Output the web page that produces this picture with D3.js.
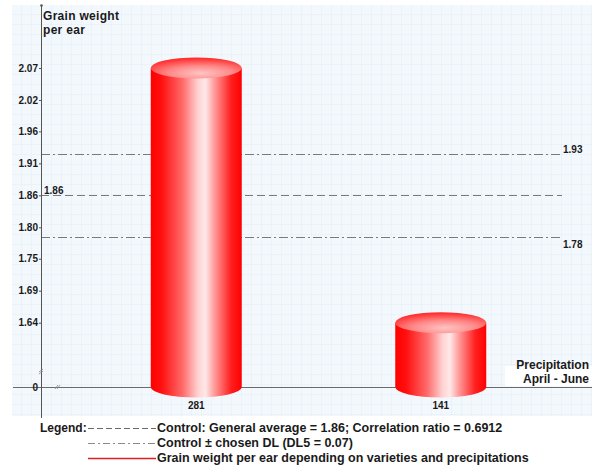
<!DOCTYPE html>
<html>
<head>
<meta charset="utf-8">
<script src="https://cdn.jsdelivr.net/npm/d3@7"></script>
<style>
  html, body { margin: 0; padding: 0; background: #ffffff; }
  svg { display: block; font-family: "Liberation Sans", Arial, sans-serif; }
  .bold { font-weight: bold; fill: #1a1a1a; }
</style>
</head>
<body>
<svg id="chart" width="592" height="468"></svg>
<script>
// Grain weight per ear by precipitation (April - June)
const categories = ["281", "141"];
const grainWeight = [2.07, 1.64];

// Y axis ticks (evenly spaced between lowest and highest mean) and their labels
const tickValues = [1.64, 1.694, 1.748, 1.801, 1.855, 1.909, 1.963, 2.016, 2.07];
const tickLabels = ["1.64", "1.69", "1.75", "1.80", "1.86", "1.91", "1.96", "2.02", "2.07"];

// Control reference lines
const generalAverage = 1.855;
const dl5 = 0.07;
const correlationRatio = 0.6912;
const refLabels = ["1.86", "1.93", "1.78"];

const legendTexts = [
  "Control: General average = 1.86; Correlation ratio = 0.6912",
  "Control \u00b1 chosen DL (DL5 = 0.07)",
  "Grain weight per ear depending on varieties and precipitations"
];

const svg = d3.select("#chart");
const axisX = 41, baseY = 387;

// Broken value axis: the lowest plotted level sits on the zero baseline
const y = d3.scaleLinear().domain([1.5314, 2.07]).range([baseY, 68]);
const x = d3.scaleBand().domain(categories).range([74, 563]);
const barW = 91, ry = 10.5;

const defs = svg.append("defs");
const pattern = defs.append("pattern").attr("id", "grid")
  .attr("patternUnits", "userSpaceOnUse").attr("width", 10).attr("height", 10)
  .attr("x", 12).attr("y", 5);
pattern.append("rect").attr("width", 10).attr("height", 10).attr("fill", "#f3f8fd");
pattern.append("path").attr("d", "M10 0V10M0 10H10").attr("stroke", "#e3ecf6").attr("stroke-width", 1).attr("fill", "none");

const bodyGrad = defs.append("linearGradient").attr("id", "body").attr("x1", 0).attr("x2", 1).attr("y1", 0).attr("y2", 0);
[[0, "#ff0000"], [0.12, "#ff1010"], [0.35, "#ff6a6a"], [0.52, "#ffd2d2"], [0.6, "#ffe8e8"], [0.7, "#ff9a9a"], [0.88, "#ff2020"], [1, "#ff0000"]]
  .forEach(([o, c]) => bodyGrad.append("stop").attr("offset", o).attr("stop-color", c));

const topGrad = defs.append("radialGradient").attr("id", "top").attr("cx", 0.55).attr("cy", 0.75).attr("r", 0.7);
[[0, "#ffc4c4"], [0.5, "#ff8a8a"], [1, "#ff3030"]]
  .forEach(([o, c]) => topGrad.append("stop").attr("offset", o).attr("stop-color", c));

// Plot background with grid
svg.append("rect").attr("x", 12).attr("y", 5).attr("width", 580).attr("height", 411).attr("fill", "url(#grid)");

// Baseline (x axis)
svg.append("line").attr("x1", 13).attr("x2", 592).attr("y1", baseY + 0.5).attr("y2", baseY + 0.5)
  .attr("stroke", "#6b6b6b").attr("stroke-width", 1);

// Reference lines: average (dashed) and average ± DL5 (dash-dot)
const refLines = [
  { v: generalAverage, dash: "8,4" },
  { v: generalAverage + dl5, dash: "9,3,2,3" },
  { v: generalAverage - dl5, dash: "9,3,2,3" }
];
svg.selectAll("line.ref").data(refLines).join("line").attr("class", "ref")
  .attr("x1", axisX).attr("x2", 562)
  .attr("y1", d => Math.round(y(d.v)) + 0.5).attr("y2", d => Math.round(y(d.v)) + 0.5)
  .attr("stroke", "#7a7a7a").attr("stroke-width", 1).attr("stroke-dasharray", d => d.dash);

svg.append("text").attr("class", "bold").attr("x", 44).attr("y", Math.round(y(generalAverage)) - 1)
  .attr("font-size", 10).text(refLabels[0]);
svg.append("text").attr("class", "bold").attr("x", 563).attr("y", Math.round(y(generalAverage + dl5)) - 1)
  .attr("font-size", 10).text(refLabels[1]);
svg.append("text").attr("class", "bold").attr("x", 563).attr("y", Math.round(y(generalAverage - dl5)) + 11)
  .attr("font-size", 10).text(refLabels[2]);

// Cylinders
const bars = svg.selectAll("g.bar").data(categories.map((c, i) => ({ c, v: grainWeight[i] }))).join("g").attr("class", "bar");
bars.append("path")
  .attr("d", d => {
    const cx = x(d.c) + x.bandwidth() / 2, x0 = cx - barW / 2, x1 = cx + barW / 2, yt = y(d.v);
    return `M${x0},${yt}L${x0},${baseY}A${barW / 2},${ry} 0 0 0 ${x1},${baseY}L${x1},${yt}Z`;
  })
  .attr("fill", "url(#body)");
bars.append("ellipse")
  .attr("cx", d => x(d.c) + x.bandwidth() / 2).attr("cy", d => y(d.v))
  .attr("rx", barW / 2).attr("ry", ry).attr("fill", "url(#top)");

// Category labels
svg.selectAll("text.cat").data(categories).join("text").attr("class", "cat bold")
  .attr("x", d => x(d) + x.bandwidth() / 2).attr("y", 409).attr("text-anchor", "middle")
  .attr("font-size", 10).text(d => d);

// Y axis
svg.append("line").attr("x1", axisX + 0.5).attr("x2", axisX + 0.5).attr("y1", 5).attr("y2", 418)
  .attr("stroke", "#555555").attr("stroke-width", 1);
svg.append("circle").attr("cx", axisX + 0.5).attr("cy", 5.5).attr("r", 1.3).attr("fill", "#555555");

const yAxis = d3.axisLeft(y).tickValues(tickValues).tickFormat((d, i) => tickLabels[i]).tickSize(2).tickPadding(1);
const gAxis = svg.append("g").attr("transform", `translate(${axisX},0)`).call(yAxis);
gAxis.select(".domain").remove();
gAxis.selectAll(".tick line").attr("stroke", "#555555");
gAxis.selectAll(".tick text").attr("font-family", "Liberation Sans, Arial, sans-serif")
  .attr("font-size", 10).attr("font-weight", "bold").attr("fill", "#1a1a1a");

svg.append("text").attr("class", "bold").attr("x", 38).attr("y", baseY + 4).attr("text-anchor", "end")
  .attr("font-size", 10).text("0");

// Axis break marks
svg.append("path").attr("d", `M${axisX - 2},${372}L${axisX + 2},${369}M${axisX - 2},${374}L${axisX + 2},${371}`)
  .attr("stroke", "#8a8a8a").attr("stroke-width", 0.8).attr("fill", "none");
svg.append("path").attr("d", `M55,389L58,385M57,389L60,385`)
  .attr("stroke", "#8a8a8a").attr("stroke-width", 0.8).attr("fill", "none");

// Axis titles
svg.append("text").attr("class", "bold").attr("x", 43).attr("y", 20).attr("font-size", 12).attr("letter-spacing", 0.3).text("Grain weight");
svg.append("text").attr("class", "bold").attr("x", 43).attr("y", 34).attr("font-size", 12).attr("letter-spacing", 0.3).text("per ear");

svg.append("rect").attr("x", 505).attr("y", 366).attr("width", 87).attr("height", 20).attr("fill", "#ffffff");
svg.append("text").attr("class", "bold").attr("x", 589).attr("y", 369).attr("text-anchor", "end").attr("font-size", 12).text("Precipitation");
svg.append("text").attr("class", "bold").attr("x", 589).attr("y", 383).attr("text-anchor", "end").attr("font-size", 12).text("April - June");

// Legend
svg.append("text").attr("class", "bold").attr("x", 40).attr("y", 432).attr("font-size", 12).text("Legend:");
const legendStyles = [
  { stroke: "#6a6a6a", dash: "6,3" },
  { stroke: "#8a8a8a", dash: "7,3,2,3" },
  { stroke: "#e02020", dash: null }
];
legendStyles.forEach((s, i) => {
  const ly = 428 + i * 15;
  svg.append("line").attr("x1", 88).attr("x2", 156).attr("y1", ly + 0.5).attr("y2", ly + 0.5)
    .attr("stroke", s.stroke).attr("stroke-width", i === 2 ? 1.5 : 1).attr("stroke-dasharray", s.dash);
  svg.append("text").attr("class", "bold").attr("x", 157).attr("y", 432 + i * 15)
    .attr("font-size", 12.5).text(legendTexts[i]);
});
</script>
</body>
</html>
